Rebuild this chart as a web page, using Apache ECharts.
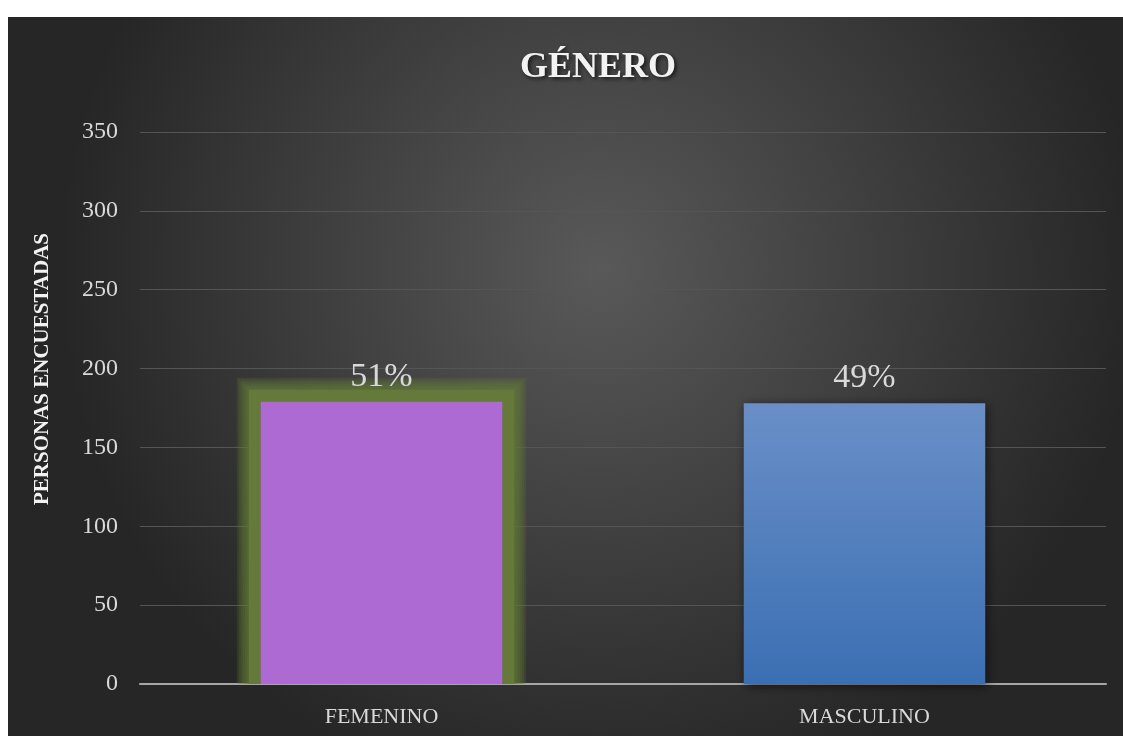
<!DOCTYPE html>
<html>
<head>
<meta charset="utf-8">
<script src="https://cdn.jsdelivr.net/npm/echarts@6/dist/echarts.min.js"></script>
<style>
  html, body { margin: 0; padding: 0; background: #fff; }
  #main { position: absolute; left: 8px; top: 17px; width: 1115px; height: 719px; }
</style>
</head>
<body>
<div id="main"></div>
<script>
  var categories = ['FEMENINO', 'MASCULINO'];
  var values = [179, 178];
  var percentLabels = ['51%', '49%'];
  var glowing = [true, false];

  var font = '"Liberation Serif", "DejaVu Serif", serif';
  var myChart = echarts.init(document.getElementById('main'));

  // green halo behind the first bar: stacked translucent rects, placed with the axis scales
  function renderGlow(params, api) {
    if (!glowing[params.dataIndex]) return;
    var top = api.coord([api.value(0), api.value(1)]);
    var base = api.coord([api.value(0), 0]);
    var w = api.size([1, 0])[0] * 0.5;
    var children = [];
    for (var pad = 24; pad >= 12; pad -= 2) {
      children.push({
        type: 'rect',
        shape: { x: top[0] - w / 2 - pad, y: top[1] - pad, width: w + pad * 2, height: base[1] - top[1] + pad },
        style: { fill: pad === 12 ? '#64793a' : 'rgba(100,125,55,0.2)' }
      });
    }
    return { type: 'group', children: children };
  }

  var option = {
    backgroundColor: {
      type: 'radial', x: 0.53, y: 0.35, r: 0.75,
      colorStops: [
        { offset: 0, color: '#595959' },
        { offset: 1, color: '#262626' }
      ]
    },
    title: {
      text: 'GÉNERO',
      left: 507,
      top: 28,
      textStyle: {
        fontFamily: font,
        fontSize: 36,
        fontWeight: 'bold',
        color: '#f2f2f2',
        textShadowColor: 'rgba(0,0,0,0.7)',
        textShadowBlur: 4,
        textShadowOffsetX: 2,
        textShadowOffsetY: 2
      }
    },
    graphic: [{
      type: 'text',
      x: 35, y: 352,
      rotation: Math.PI / 2,
      style: {
        text: 'PERSONAS ENCUESTADAS',
        fill: '#f2f2f2',
        font: 'bold 21px ' + font,
        align: 'center',
        verticalAlign: 'middle'
      }
    }],
    grid: { left: 132, right: 17, top: 115, bottom: 52 },
    xAxis: {
      type: 'category',
      data: categories,
      axisLine: { lineStyle: { color: '#a6a6a6', width: 2 } },
      axisTick: { show: false },
      axisLabel: { color: '#d9d9d9', fontFamily: font, fontSize: 22, margin: 22 }
    },
    yAxis: {
      type: 'value',
      min: 0, max: 350, interval: 50,
      axisLine: { show: false },
      axisTick: { show: false },
      axisLabel: { color: '#d9d9d9', fontFamily: font, fontSize: 24, margin: 22 },
      splitLine: { lineStyle: { color: '#555555', width: 1 } }
    },
    series: [{
      type: 'custom',
      z: 1,
      clip: true,
      silent: true,
      renderItem: renderGlow,
      encode: { x: 0, y: 1 },
      data: values.map(function (v, i) { return [i, v]; })
    }, {
      type: 'bar',
      z: 3,
      barWidth: '50%',
      data: values.map(function (v, i) {
        var style = i === 0 ? {
          color: '#ac6ad2'
        } : {
          color: {
            type: 'linear', x: 0, y: 0, x2: 0, y2: 1,
            colorStops: [
              { offset: 0, color: '#6a8fc7' },
              { offset: 1, color: '#3b6fb3' }
            ]
          },
          shadowColor: 'rgba(0,0,0,0.6)',
          shadowBlur: 10,
          shadowOffsetX: 2,
          shadowOffsetY: 2
        };
        return { value: v, itemStyle: style };
      }),
      label: {
        show: true,
        position: 'top',
        distance: 8,
        color: '#d9d9d9',
        fontFamily: font,
        fontSize: 34,
        formatter: function (p) { return percentLabels[p.dataIndex]; }
      }
    }]
  };

  myChart.setOption(option);
</script>
</body>
</html>
